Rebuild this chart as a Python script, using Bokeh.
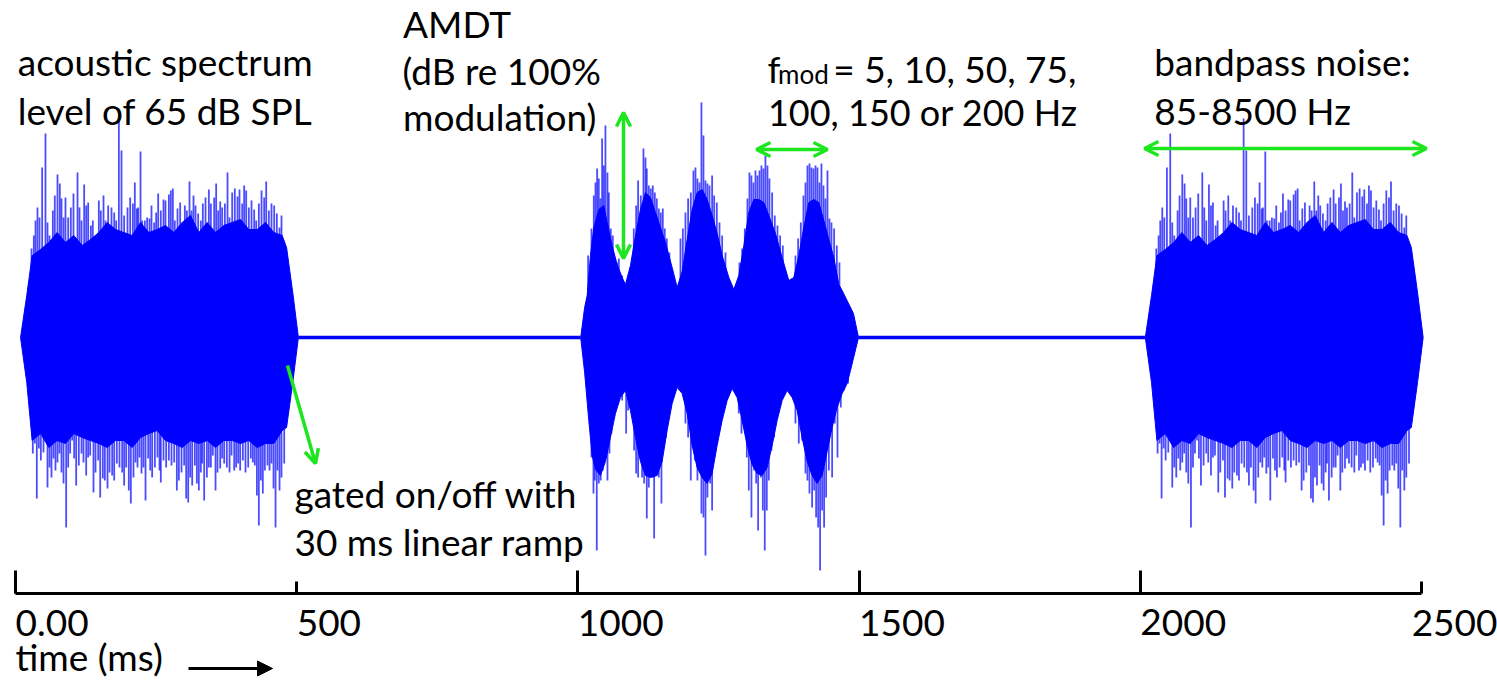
from bokeh.plotting import figure
from bokeh.models import Range1d, FixedTicker, Label, Arrow, OpenHead, NormalHead
from bokeh.embed import file_html
from bokeh.resources import INLINE

# ---------------- data (time in ms, amplitude in arbitrary units) ----------------
tick_ms = [0, 500, 1000, 1500, 2000, 2500]
long_tick_ms = [0, 1000, 1500, 2000]

burst_onset_ms = [0, 1000, 2000]
burst_type = ["noise", "amdt", "noise"]

# unmodulated noise burst (same token in bursts 1 and 3), times relative to onset
noise_env_t = [9, 20, 29.6, 44.5, 59.3, 74.1, 88.9, 103.7, 118.6, 133.4,
               148.2, 163.0, 177.8, 192.6, 207.5, 222.3, 237.1, 251.9, 266.7, 281.6,
               296.4, 311.2, 326.0, 340.8, 355.7, 370.5, 385.3, 400.1, 414.9, 429.7,
               444.6, 459.4, 474.2, 482, 493, 503]
noise_env_top = [0, 0.42, 0.82, 0.88, 0.95, 1.05, 0.95, 1.02, 0.92, 0.98,
                 1.05, 1.15, 1.08, 1.05, 1.02, 1.15, 1.05, 1.08, 1.12, 1.05,
                 1.15, 1.22, 1.05, 1.15, 1.05, 1.12, 1.15, 1.18, 1.08, 1.08,
                 1.15, 1.05, 1.02, 0.90, 0.45, 0]
noise_env_bot = [0, -0.45, -1.03, -0.96, -1.10, -1.03, -1.06, -0.96, -1.00, -1.03,
                 -1.06, -1.10, -1.03, -1.03, -1.10, -1.00, -0.96, -0.93, -1.03, -1.06,
                 -1.10, -1.03, -1.06, -1.03, -1.10, -1.03, -1.03, -1.06, -1.03, -1.10,
                 -1.06, -1.06, -0.93, -0.90, -0.45, 0]

noise_up_t = [28.5, 32.6, 35.6, 39.1, 42.7, 47.4, 53.3, 56.9, 60.5, 66.4,
              69.9, 74.7, 78.8, 81.8, 85.4, 88.9, 93.7, 98.4, 103.1, 110.3,
              113.8, 117.4, 122.1, 125.7, 129.2, 134.0, 137.5, 141.1, 148.2, 151.7,
              156.5, 160.0, 164.8, 170.7, 175.5, 179.0, 183.8, 188.5, 193.2, 199.2,
              203.9, 208.7, 212.2, 215.8, 218.1, 222.3, 225.2, 230.0, 234.1, 238.3,
              241.8, 246.6, 250.1, 253.7, 258.4, 263.2, 266.7, 272.7, 276.2, 279.8,
              283.3, 288.1, 292.8, 296.4, 301.1, 304.7, 309.4, 313.0, 316.5, 320.1,
              324.8, 329.6, 333.1, 337.9, 343.8, 347.4, 353.3, 356.8, 360.4, 364.0,
              367.5, 372.3, 377.0, 380.6, 385.3, 390.0, 394.8, 398.3, 403.1, 406.6,
              410.2, 414.9, 419.7, 424.4, 428.0, 432.7, 437.5, 442.2, 445.8, 450.5,
              455.2, 460.0, 464.7, 469.5, 473.0, 477.8]
noise_up_a = [0.89, 1.02, 1.17, 1.30, 1.20, 1.70, 2.04, 1.15, 1.02, 1.27,
              1.42, 1.63, 1.54, 1.39, 1.20, 1.40, 1.20, 1.30, 1.44, 1.65,
              1.30, 1.17, 1.53, 1.32, 1.35, 1.12, 1.17, 0.95, 1.37, 1.27,
              1.42, 1.17, 1.32, 1.30, 1.25, 1.17, 2.19, 1.87, 1.22, 1.30,
              1.40, 1.34, 1.55, 1.29, 1.30, 1.86, 1.17, 1.17, 1.20, 1.19,
              1.32, 1.15, 1.25, 1.44, 1.27, 1.38, 1.37, 1.43, 1.47, 1.49,
              1.17, 1.29, 1.35, 1.15, 1.32, 1.27, 1.56, 1.27, 1.42, 1.32,
              1.24, 1.17, 1.34, 1.40, 1.48, 1.34, 1.40, 1.54, 1.27, 1.36,
              1.30, 1.34, 1.65, 1.20, 1.45, 1.49, 1.41, 1.48, 1.34, 1.52,
              1.47, 1.30, 1.37, 1.28, 1.17, 1.34, 1.47, 1.40, 1.56, 1.27,
              1.34, 1.32, 1.24, 1.10, 1.22, 0.90]
noise_dn_t = [30.8, 34.4, 37.9, 41.5, 45.1, 49.8, 53.3, 56.9, 60.5, 64.0,
              67.6, 71.1, 74.7, 78.2, 81.8, 85.4, 90.1, 93.7, 97.2, 100.8,
              104.3, 107.9, 112.6, 117.4, 120.9, 125.7, 129.2, 132.8, 138.7, 142.3,
              147.0, 150.6, 155.3, 158.9, 163.6, 167.2, 171.9, 175.5, 180.2, 184.9,
              189.7, 193.2, 196.8, 201.5, 205.1, 209.8, 213.4, 217.0, 220.5, 224.1,
              227.6, 231.2, 235.9, 239.5, 243.0, 247.8, 252.5, 256.1, 258.4, 263.2,
              267.9, 272.7, 277.4, 282.2, 286.9, 290.5, 295.2, 299.9, 303.5, 307.1,
              310.6, 314.2, 318.9, 322.5, 326.0, 329.6, 332.0, 335.5, 340.3, 343.8,
              347.4, 350.9, 355.7, 359.2, 364.0, 367.5, 371.1, 375.8, 380.6, 384.1,
              388.9, 392.4, 396.0, 399.5, 404.3, 409.0, 413.8, 418.5, 422.1, 425.6,
              429.2, 432.7, 436.3, 439.8, 443.4, 448.1, 451.7, 455.2, 458.8, 462.4,
              465.9, 469.5, 473.0, 477.8]
noise_dn_a = [-1.16, -1.06, -1.61, -1.11, -1.23, -1.15, -1.03, -1.50, -1.30, -1.40,
              -1.21, -1.33, -1.25, -1.16, -1.35, -1.46, -1.90, -1.30, -1.16, -1.03,
              -1.21, -1.48, -1.28, -1.16, -1.25, -1.38, -1.20, -1.18, -1.55, -1.35,
              -1.23, -1.60, -1.41, -1.43, -1.51, -1.35, -1.38, -1.43, -1.26, -1.30,
              -1.35, -1.48, -1.30, -1.53, -1.66, -1.40, -1.25, -1.30, -1.20, -1.36,
              -1.30, -1.63, -1.21, -1.33, -1.40, -1.30, -1.20, -1.33, -1.45, -1.23,
              -1.30, -1.23, -1.28, -1.25, -1.53, -1.43, -1.35, -1.28, -1.61, -1.65,
              -1.40, -1.48, -1.28, -1.46, -1.53, -1.35, -1.26, -1.63, -1.40, -1.30,
              -1.30, -1.18, -1.53, -1.35, -1.31, -1.21, -1.26, -1.30, -1.35, -1.18,
              -1.33, -1.30, -1.26, -1.33, -1.23, -1.35, -1.30, -1.21, -1.25, -1.28,
              -1.58, -1.88, -1.43, -1.56, -1.33, -1.28, -1.33, -1.26, -1.51, -1.90,
              -1.33, -1.53, -1.40, -1.26]

# amplitude-modulated noise burst (AMDT), times relative to onset
amdt_env_top_t = [5, 12, 16.5, 22.4, 28.4, 37.2, 46.1, 52.1, 60.9, 69.8,
                  78.7, 84.6, 93.5, 102.4, 111.3, 120.2, 129.1, 138.0, 146.9, 155.8,
                  167.6, 176.5, 185.4, 194.3, 203.2, 212.1, 221.0, 229.9, 238.8, 247.7,
                  256.6, 268.4, 277.3, 286.2, 295.1, 303.9, 312.8, 321.7, 330.6, 339.5,
                  351.4, 363.2, 375.1, 384.0, 392.8, 401.7, 410.6, 419.5, 428.4, 437.3,
                  446.2, 455.1, 464.0, 469.9, 490, 499]
amdt_env_top = [0, 0.30, 0.42, 0.82, 1.10, 1.28, 1.32, 1.15, 0.92, 0.73,
                0.60, 0.53, 0.72, 1.02, 1.28, 1.45, 1.40, 1.25, 1.10, 0.95,
                0.70, 0.50, 0.66, 0.98, 1.28, 1.45, 1.48, 1.38, 1.22, 1.04,
                0.82, 0.60, 0.48, 0.62, 0.92, 1.25, 1.38, 1.38, 1.35, 1.22,
                1.04, 0.80, 0.57, 0.60, 0.82, 1.10, 1.35, 1.38, 1.35, 1.17,
                0.98, 0.80, 0.53, 0.47, 0.24, 0]
amdt_env_bot_t = [5, 12, 19.4, 25.3, 31.3, 40.1, 49.0, 57.9, 66.8, 75.7,
                  84.6, 93.5, 102.4, 111.3, 120.2, 129.1, 140.9, 149.8, 158.7, 167.6,
                  176.5, 185.4, 194.3, 203.2, 212.0, 220.9, 229.8, 238.7, 247.6, 256.5,
                  265.4, 274.3, 283.2, 292.1, 301.0, 309.8, 318.7, 327.6, 336.5, 345.4,
                  354.3, 363.2, 372.1, 381.0, 389.9, 398.7, 407.6, 416.5, 425.4, 434.3,
                  443.2, 452.1, 461.0, 469.9, 478.8, 484.7, 499]
amdt_env_bot = [0, -0.35, -0.83, -1.18, -1.32, -1.38, -1.24, -1.00, -0.76, -0.60,
                -0.53, -0.73, -1.00, -1.24, -1.38, -1.40, -1.38, -1.24, -0.93, -0.66,
                -0.50, -0.56, -0.76, -1.08, -1.30, -1.40, -1.46, -1.36, -1.08, -0.83,
                -0.63, -0.51, -0.60, -0.83, -1.08, -1.27, -1.36, -1.38, -1.30, -1.08,
                -0.83, -0.63, -0.53, -0.60, -0.73, -1.00, -1.24, -1.38, -1.46, -1.38,
                -1.14, -0.90, -0.70, -0.56, -0.46, -0.33, 0]

amdt_up_t = [18.2, 24.2, 28.3, 31.3, 34.2, 37.2, 40.1, 43.1, 46.1, 49.0, 52.6, 55.0, 58.5, 62.1, 65.6, 69.2, 72.8, 78.7,
             99.4, 103.6, 107.1, 111.9, 116.6, 120.2, 122.5, 126.1, 129.6, 133.2, 136.8, 140.3, 143.9, 147.4, 151.0, 154.5, 158.1, 162.8,
             182.4, 186.6, 191.3, 196.0, 200.8, 205.5, 209.1, 212.6, 216.2, 219.7, 223.3, 226.9, 230.4, 234.0, 238.7, 242.3, 247.0, 251.8, 256.5, 262.4,
             287.3, 292.1, 296.8, 301.5, 305.1, 308.6, 312.2, 315.8, 319.3, 322.9, 326.4, 330.0, 333.5, 337.1, 340.6, 345.4, 350.1, 354.9, 359.6, 364.4,
             386.9, 391.6, 396.4, 401.1, 404.7, 408.2, 411.8, 415.3, 418.9, 422.5, 426.0, 429.6, 433.1, 436.7, 440.2, 443.8, 447.3, 450.9, 455.6, 460.4, 465.1]
amdt_up_a = [0.82, 1.09, 1.42, 1.55, 1.69, 1.59, 1.39, 1.99, 1.72, 2.12, 1.65, 1.45, 1.09, 1.02, 0.79, 0.75, 0.79, 0.62,
             1.09, 1.32, 1.57, 1.42, 1.89, 1.80, 1.69, 1.52, 1.49, 1.52, 1.45, 1.39, 1.29, 1.25, 1.29, 1.09, 0.99, 0.85,
             0.99, 1.09, 1.25, 1.39, 1.45, 1.67, 1.70, 1.59, 1.55, 2.35, 2.02, 1.57, 1.54, 1.52, 1.62, 1.42, 1.35, 1.15, 1.02, 0.85,
             0.75, 0.89, 1.09, 1.39, 1.65, 1.62, 1.55, 1.67, 1.62, 1.67, 1.72, 1.69, 1.82, 1.72, 1.59, 1.45, 1.22, 1.12, 1.02, 0.92,
             0.82, 0.99, 1.15, 1.42, 1.55, 1.72, 1.74, 1.70, 1.69, 1.72, 1.70, 1.55, 1.74, 1.52, 1.39, 1.67, 1.19, 1.15, 1.09, 0.92, 0.75]
amdt_dn_t = [24.2, 27.7, 30.1, 33.6, 37.2, 40.7, 44.3, 49.0, 52.6, 56.2, 59.7, 64.5, 69.2, 73.9, 78.7, 82.2, 85.8, 89.3,
             100.0, 103.6, 107.1, 110.7, 114.2, 117.8, 122.5, 126.1, 129.6, 133.2, 135.6, 139.1, 143.9, 148.6, 152.2, 156.9, 160.5, 165.2,
             191.3, 196.0, 200.8, 204.3, 207.9, 212.6, 216.2, 219.7, 223.3, 226.9, 230.4, 235.2, 238.7, 242.3, 247.0, 251.8, 256.5, 261.2,
             286.1, 290.9, 295.6, 300.4, 303.9, 308.6, 313.4, 317.0, 320.5, 325.2, 328.8, 332.3, 335.9, 339.5, 344.2, 349.0, 353.7, 358.4,
             386.9, 392.8, 398.7, 404.7, 408.2, 411.8, 416.5, 420.1, 423.6, 427.2, 430.7, 434.3, 437.8, 441.4, 446.2, 452.1, 456.8, 461.6, 467.5, 473.4, 480.5]
amdt_dn_a = [-1.20, -1.56, -1.43, -2.13, -1.46, -1.43, -1.33, -1.20, -1.43, -1.16, -0.96, -0.76, -0.66, -0.56, -0.63, -0.53, -0.96, -0.73,
             -1.13, -1.36, -1.40, -1.20, -1.40, -1.46, -1.81, -1.50, -1.33, -1.40, -2.01, -1.30, -1.40, -1.66, -1.10, -1.00, -0.76, -0.66,
             -0.86, -1.00, -1.43, -1.10, -1.23, -1.43, -1.33, -1.76, -1.80, -2.18, -1.60, -1.46, -1.73, -1.23, -1.00, -0.86, -0.76, -0.66,
             -0.76, -0.96, -0.90, -1.20, -1.53, -1.80, -1.33, -1.46, -1.93, -1.40, -1.73, -2.13, -1.73, -1.43, -1.13, -1.00, -0.80, -0.70,
             -0.86, -1.06, -1.03, -1.36, -1.43, -1.56, -1.70, -1.53, -1.80, -1.90, -2.33, -1.73, -1.90, -1.60, -1.33, -1.40, -0.86, -1.20, -0.70, -0.53, -0.46]

silence_start_ms = [503, 1499]
silence_end_ms = [1005, 2009]

# ---------------- figure ----------------
BLUE = "#0000ff"
GREEN = "#1ee61e"
FONT = "Lato"
AXIS_Y = -2.56

p = figure(width=1497, height=681, title=None,
           x_range=Range1d(-26.67, 2635.2), y_range=Range1d(-3.44, 3.37),
           output_backend="svg", toolbar_location=None,
           y_axis_location=None, x_axis_location="below",
           min_border_left=0, min_border_right=0, min_border_top=0, min_border_bottom=0)
p.outline_line_color = None
p.xgrid.visible = False
p.ygrid.visible = False
p.background_fill_color = "white"
p.border_fill_color = "white"

# silent gaps between bursts
p.segment(x0=silence_start_ms, y0=[0] * len(silence_start_ms),
          x1=silence_end_ms, y1=[0] * len(silence_end_ms),
          line_color=BLUE, line_width=3.5)

xs, ys = [], []
sx, sy0, sy1 = [], [], []
for onset, kind in zip(burst_onset_ms, burst_type):
    if kind == "noise":
        top_t, top_a, bot_t, bot_a = noise_env_t, noise_env_top, noise_env_t, noise_env_bot
        spikes = [(noise_up_t, noise_up_a), (noise_dn_t, noise_dn_a)]
    else:
        top_t, top_a, bot_t, bot_a = amdt_env_top_t, amdt_env_top, amdt_env_bot_t, amdt_env_bot
        spikes = [(amdt_up_t, amdt_up_a), (amdt_dn_t, amdt_dn_a)]
    xs.append([onset + t for t in top_t] + [onset + t for t in reversed(bot_t)])
    ys.append(list(top_a) + list(reversed(bot_a)))
    for ts, amps in spikes:
        for t, a in zip(ts, amps):
            sx.append(onset + t)
            sy0.append(0)
            sy1.append(a)

p.patches(xs=xs, ys=ys, fill_color=BLUE, line_color=BLUE, line_width=1)
p.segment(x0=sx, y0=sy0, x1=sx, y1=sy1, line_color=BLUE, line_alpha=0.7, line_width=1.8)

# time axis drawn inside the frame
ax = p.xaxis[0]
ax.fixed_location = AXIS_Y
ax.ticker = FixedTicker(ticks=tick_ms, minor_ticks=long_tick_ms)
ax.bounds = (tick_ms[0], tick_ms[-1])
ax.major_label_overrides = {0: "0.00"}
ax.axis_line_width = 3
ax.axis_line_color = "black"
ax.major_tick_line_width = 3
ax.major_tick_line_color = "black"
ax.major_tick_in = 12
ax.major_tick_out = 0
ax.minor_tick_line_width = 3
ax.minor_tick_line_color = "black"
ax.minor_tick_in = 23
ax.minor_tick_out = 0
ax.major_label_text_font = FONT
ax.major_label_text_font_size = "37px"
ax.major_label_text_color = "black"
ax.major_label_orientation = -0.0001
ax.major_label_standoff = 29

# text annotations: (text, x_ms, y_amp, font px)
annotations = [
    ("acoustic spectrum", 4, 2.76, 37),
    ("level of 65 dB SPL", 4, 2.27, 37),
    ("AMDT", 689, 3.14, 37),
    ("(dB re 100%", 688, 2.67, 37),
    ("modulation)", 689, 2.21, 37),
    ("f", 1337, 2.69, 37),
    ("mod", 1356, 2.64, 26),
    ("= 5, 10, 50, 75,", 1454, 2.69, 37),
    ("100, 150 or 200 Hz", 1338, 2.26, 36),
    ("bandpass noise:", 2025, 2.76, 37),
    ("85-8500 Hz", 2025, 2.27, 37),
    ("gated on/off with", 496, -1.56, 37),
    ("30 ms linear ramp", 496, -2.04, 37),
    ("time (ms)", 0, -3.19, 37),
]
for txt, x, y, fs in annotations:
    p.add_layout(Label(x=x, y=y, text=txt, text_font=FONT, text_font_size=f"{fs}px",
                       text_color="black", text_align="left", text_baseline="alphabetic"))

# green arrows: (x0, y0, x1, y1, double-headed)
green_arrows = [
    (483.6, -0.28, 533.4, -1.26, False),
    (1081.1, 0.79, 1081.1, 2.25, True),
    (1317.6, 1.88, 1443.8, 1.88, True),
    (2007.5, 1.89, 2508.9, 1.89, True),
]
for x0, y0, x1, y1, both in green_arrows:
    p.add_layout(Arrow(
        start=OpenHead(size=14, line_color=GREEN, line_width=3.5) if both else None,
        end=OpenHead(size=14, line_color=GREEN, line_width=3.5),
        x_start=x0, y_start=y0, x_end=x1, y_end=y1,
        line_color=GREEN, line_width=3.5))

# time arrow
p.add_layout(Arrow(end=NormalHead(size=15, fill_color="black", line_color="black"),
                   x_start=307.6, y_start=-3.31, x_end=457.0, y_end=-3.31,
                   line_color="black", line_width=3))

open("out.html", "w").write(file_html(p, INLINE))
